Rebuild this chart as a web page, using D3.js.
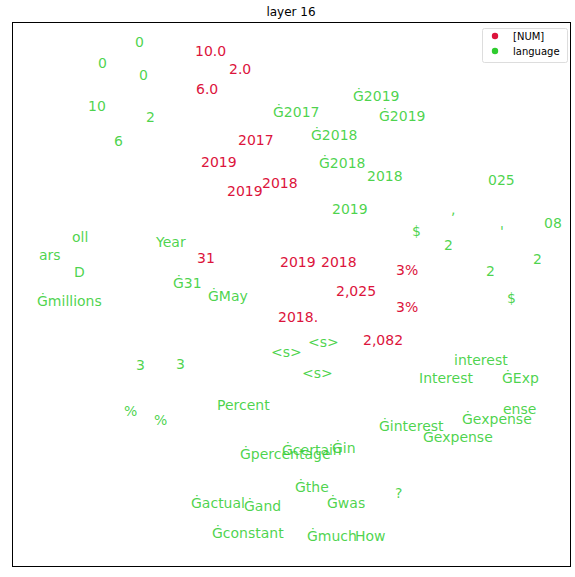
<!DOCTYPE html>
<html>
<head>
<meta charset="utf-8">
<script src="https://cdn.jsdelivr.net/npm/d3@7"></script>
<style>
  body { margin: 0; background: #fff; }
  text { font-family: "DejaVu Sans", sans-serif; }
</style>
</head>
<body>
<svg id="chart" width="575" height="577"></svg>
<script>
const title = "layer 16";
const seriesNames = ["[NUM]", "language"];
const seriesColors = ["#dc143c", "#2ecc2e"];

const numLabels = ["10.0","2.0","6.0","2017","2019","2019","2018","31","2019","2018","3%","2,025","3%","2018.","2,082"];
const numX = [183,217,184,226,189,215,250,185,268,309,384,324,384,266,351];
const numY = [511,493,473,422,400,371,379,304,300,300,292,271,255,245,222];

const langLabels = ["0","0","0","10","2","6","Ġ2017","Ġ2019","Ġ2019","Ġ2018","Ġ2018","2018","025","2019","$",",","'","2","08","2","2","$","oll","ars","D","Ġmillions","Year","Ġ31","ĠMay","<s>","<s>","<s>","3","3","interest","Interest","ĠExp","ense","Ġexpense","Ġexpense","Ġinterest","Percent","%","%","Ġpercentage","Ġcertain","Ġin","Ġthe","Ġwas","?","Ġactual","Ġand","Ġconstant","Ġmuch","How"];
const langX = [123,86,127,76,134,102,261,341,367,299,307,355,476,320,400,439,488,432,532,521,474,495,60,27,62,25,144,161,196,259,296,290,124,164,442,407,490,491,450,411,367,205,112,142,228,270,320,283,315,383,179,232,200,295,343];
const langY = [520,499,487,456,445,421,450,466,446,427,399,386,382,353,331,353,331,317,339,303,291,264,325,307,290,261,320,279,266,210,220,189,197,198,202,184,184,153,143,125,136,157,151,142,108,112,114,75,59,69,59,56,29,26,26];

const svg = d3.select("#chart");
const x = d3.scaleLinear().domain([0, 559]).range([12, 571]);
const y = d3.scaleLinear().domain([0, 545]).range([567, 22]);

// title
svg.append("text").attr("x", 291).attr("y", 16).attr("text-anchor", "middle")
  .attr("font-size", 12).attr("fill", "#000").text(title);

// frame
svg.append("rect").attr("x", x(0) + 0.5).attr("y", y(545) + 0.5)
  .attr("width", x(559) - x(0) - 1).attr("height", y(0) - y(545) - 1)
  .attr("fill", "none").attr("stroke", "#000").attr("stroke-width", 1);

const numData = numLabels.map((t, i) => ({t, x: numX[i], y: numY[i]}));
const langData = langLabels.map((t, i) => ({t, x: langX[i], y: langY[i]}));

svg.append("g").selectAll("text").data(langData).join("text")
  .attr("x", d => x(d.x)).attr("y", d => y(d.y))
  .attr("font-size", 14).attr("fill", seriesColors[1]).attr("fill-opacity", 0.85)
  .text(d => d.t);

svg.append("g").selectAll("text").data(numData).join("text")
  .attr("x", d => x(d.x)).attr("y", d => y(d.y))
  .attr("font-size", 14).attr("fill", seriesColors[0])
  .text(d => d.t);

// legend
const lg = svg.append("g");
lg.append("rect").attr("x", 482.5).attr("y", 28.5).attr("width", 85).attr("height", 34)
  .attr("rx", 2).attr("fill", "#fff").attr("fill-opacity", 0.8).attr("stroke", "#ddd");
seriesNames.forEach((n, i) => {
  lg.append("circle").attr("cx", 495).attr("cy", 36 + i * 15).attr("r", 3.2).attr("fill", seriesColors[i]);
  lg.append("text").attr("x", 513).attr("y", 40 + i * 15).attr("font-size", 10).attr("fill", "#000").text(n);
});
</script>
</body>
</html>
